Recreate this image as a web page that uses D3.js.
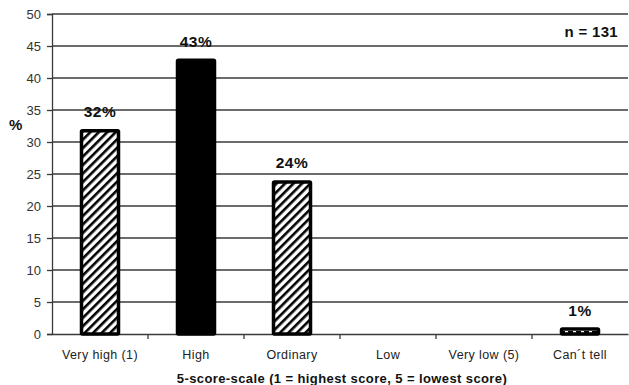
<!DOCTYPE html>
<html><head><meta charset="utf-8">
<script src="https://cdn.jsdelivr.net/npm/d3@7"></script>
<style>body{margin:0;background:#fff}svg{display:block}</style>
</head><body>
<script>
const categories = ["Very high (1)", "High", "Ordinary", "Low", "Very low (5)", "Can\u00b4t tell"];
const values = [32, 43, 24, null, null, 1];
const fills = ["hatch", "solid", "hatch", "hatch", "hatch", "dash"];
const yTicks = [0, 5, 10, 15, 20, 25, 30, 35, 40, 45, 50];

const W = 629, H = 385;
const m = {left: 52, right: 1, top: 14, bottom: 50};
const FONT = "Liberation Sans, Arial, sans-serif";
const svg = d3.select("body").append("svg").attr("width", W).attr("height", H);
const defs = svg.append("defs");
const hp = defs.append("pattern").attr("id", "hatch").attr("patternUnits", "userSpaceOnUse")
  .attr("width", 6).attr("height", 6).attr("patternTransform", "rotate(45)");
hp.append("rect").attr("width", 6).attr("height", 6).attr("fill", "#fff");
hp.append("rect").attr("x", 0).attr("width", 2.6).attr("height", 6).attr("fill", "#000");
const dp = defs.append("pattern").attr("id", "dash").attr("patternUnits", "userSpaceOnUse")
  .attr("width", 8).attr("height", 8);
dp.append("rect").attr("width", 8).attr("height", 8).attr("fill", "#fff");
dp.append("rect").attr("x", 0).attr("y", 3).attr("width", 5).attr("height", 2).attr("fill", "#000");

const x = d3.scaleBand().domain(categories).range([m.left, W - m.right]).paddingInner(0).paddingOuter(0);
const y = d3.scaleLinear().domain([0, 50]).range([H - m.bottom - 1, m.top]);

// gridlines
svg.append("g").selectAll("line").data(yTicks.filter(d => d > 0)).join("line")
  .attr("x1", m.left).attr("x2", W - m.right)
  .attr("y1", d => y(d)).attr("y2", d => y(d))
  .attr("stroke", "#3a3a3a").attr("stroke-width", 1.3);

// y axis
const ya = svg.append("g").attr("transform", `translate(${m.left},0)`)
  .call(d3.axisLeft(y).tickValues(yTicks).tickSize(5).tickPadding(6));
ya.select(".domain").attr("stroke", "#3a3a3a").attr("stroke-width", 1.3);
ya.selectAll(".tick line").attr("stroke", "#3a3a3a").attr("stroke-width", 1.3);
ya.selectAll("text").attr("font-family", FONT)
  .attr("font-size", 13).attr("fill", "#333");

// x axis
const xa = svg.append("g").attr("transform", `translate(0,${y(0)})`)
  .call(d3.axisBottom(x).tickSize(0).tickPadding(16));
xa.select(".domain").attr("stroke", "#3a3a3a").attr("stroke-width", 1.3);
xa.selectAll("text").attr("font-family", FONT)
  .attr("font-size", 12.5).attr("letter-spacing", 0.4).attr("fill", "#222");
// tick marks between categories
svg.append("g").selectAll("line").data(categories.slice(1)).join("line")
  .attr("x1", d => x(d)).attr("x2", d => x(d))
  .attr("y1", y(0)).attr("y2", y(0) + 5)
  .attr("stroke", "#3a3a3a").attr("stroke-width", 1.3);

// bars
const bw = 40;
const data = categories.map((c, i) => ({c, v: values[i], f: fills[i]})).filter(d => d.v != null);
svg.append("g").selectAll("rect").data(data).join("rect")
  .attr("x", d => x(d.c) + x.bandwidth() / 2 - bw / 2 + 1.5)
  .attr("width", bw - 3)
  .attr("y", d => y(d.v) + 1.5)
  .attr("height", d => y(0) - y(d.v) - 1.5)
  .attr("fill", d => d.f === "solid" ? "#000" : `url(#${d.f})`)
  .attr("stroke", "#000").attr("stroke-width", 3.5).attr("rx", 1);

// value labels
svg.append("g").selectAll("text").data(data).join("text")
  .attr("x", d => x(d.c) + x.bandwidth() / 2)
  .attr("y", d => y(d.v) - 12)
  .attr("text-anchor", "middle")
  .attr("font-family", FONT)
  .attr("font-weight", "bold").attr("font-size", 15.5).attr("letter-spacing", 0.5).attr("fill", "#111")
  .text(d => d.v + "%");

// y label
svg.append("text").attr("x", 9).attr("y", 130)
  .attr("font-family", FONT)
  .attr("font-weight", "bold").attr("font-size", 15).attr("fill", "#111").text("%");

// n label
svg.append("text").attr("x", 618).attr("y", 37).attr("text-anchor", "end")
  .attr("font-family", FONT)
  .attr("font-weight", "bold").attr("font-size", 15).attr("letter-spacing", 0.3).attr("fill", "#111").text("n = 131");

// x title
svg.append("text").attr("x", 342).attr("y", 383).attr("text-anchor", "middle")
  .attr("font-family", FONT)
  .attr("font-weight", "bold").attr("font-size", 13).attr("letter-spacing", 0.4).attr("fill", "#111")
  .text("5-score-scale (1 = highest score, 5 = lowest score)");
</script>
</body></html>
